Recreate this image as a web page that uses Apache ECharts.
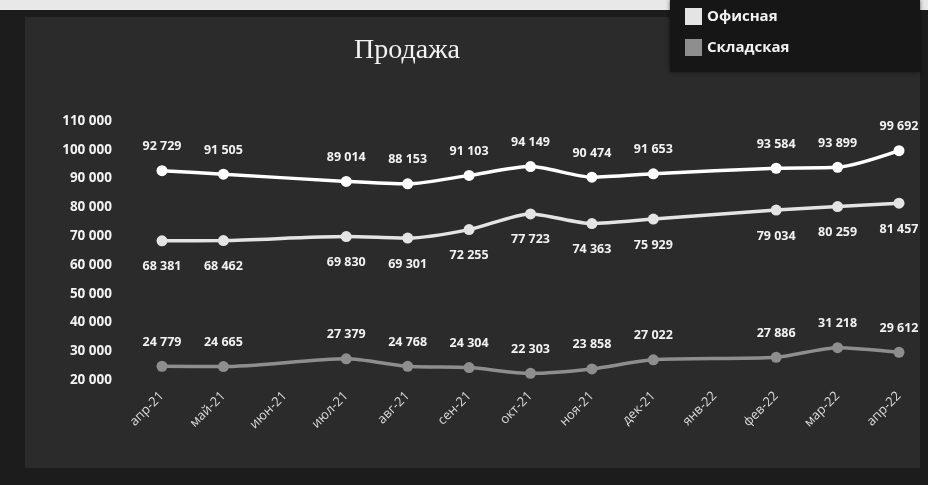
<!DOCTYPE html>
<html><head><meta charset="utf-8">
<script src="https://cdn.jsdelivr.net/npm/echarts@6/dist/echarts.min.js"></script>
<style>html,body{margin:0;padding:0;background:#1c1c1c;}#c{width:928px;height:485px;}</style>
</head><body><div id="c"></div>
<script>
const categories = ['апр-21','май-21','июн-21','июл-21','авг-21','сен-21','окт-21','ноя-21','дек-21','янв-22','фев-22','мар-22','апр-22'];
const totalSales = [92729, 91505, null, 89014, 88153, 91103, 94149, 90474, 91653, null, 93584, 93899, 99692];
const officeSales = [68381, 68462, null, 69830, 69301, 72255, 77723, 74363, 75929, null, 79034, 80259, 81457];
const warehouseSales = [24779, 24665, null, 27379, 24768, 24304, 22303, 23858, 27022, null, 27886, 31218, 29612];
const yTicks = [20000, 110000, 10000];

const fmt = v => String(v).replace(/\B(?=(\d{3})+(?!\d))/g, ' ');
const labelStyle = {show: true, color: '#f2f2f2', fontFamily: 'Open Sans', fontWeight: 'bold', fontSize: 12.5,
  formatter: p => fmt(p.value)};

const chart = echarts.init(document.getElementById('c'));
chart.setOption({
  backgroundColor: '#1c1c1c',
  animation: false,
  graphic: [
    {type: 'rect', shape: {x: 0, y: 0, width: 928, height: 10}, style: {fill: '#e8e8e8'}, z: -10},
    {type: 'rect', shape: {x: 25, y: 17, width: 895, height: 451}, style: {fill: '#2b2b2b'}, z: -10},
    {type: 'rect', shape: {x: 670, y: 0, width: 250, height: 72}, style: {fill: '#161616', shadowBlur: 4, shadowColor: 'rgba(0,0,0,0.6)'}, z: 0}
  ],
  title: {text: 'Продажа', left: 402, top: 32, textAlign: 'center',
    textStyle: {color: '#f2f2f2', fontFamily: 'Liberation Serif', fontWeight: 'normal', fontSize: 28}},
  legend: {data: ['Офисная', 'Складская'], orient: 'vertical', left: 680, top: 3, itemGap: 14,
    icon: 'rect', itemWidth: 17, itemHeight: 17, z: 5,
    textStyle: {color: '#f2f2f2', fontFamily: 'Open Sans', fontWeight: 'bold', fontSize: 15}},
  grid: {left: 162, right: 29, top: 121, bottom: 105},
  xAxis: {type: 'category', data: categories, boundaryGap: false,
    axisLine: {show: false}, axisTick: {show: false},
    axisLabel: {rotate: 45, color: '#dadada', fontFamily: 'Open Sans', fontSize: 13, margin: 14}},
  yAxis: {type: 'value', min: yTicks[0], max: yTicks[1], interval: yTicks[2],
    splitLine: {show: false}, axisLine: {show: false}, axisTick: {show: false},
    axisLabel: {color: '#f2f2f2', fontFamily: 'Open Sans', fontWeight: 'bold', fontSize: 13.5, margin: 50,
      formatter: v => fmt(v)}},
  series: [
    {name: 'Всего', type: 'line', data: totalSales, connectNulls: true, smooth: 0.25,
      color: '#ffffff', lineStyle: {width: 3.5}, symbol: 'circle', symbolSize: 11,
      label: Object.assign({}, labelStyle, {position: 'top', distance: 12})},
    {name: 'Офисная', type: 'line', data: officeSales, connectNulls: true, smooth: 0.25,
      color: '#e4e4e4', lineStyle: {width: 3.5}, symbol: 'circle', symbolSize: 11,
      label: Object.assign({}, labelStyle, {position: 'bottom', distance: 14})},
    {name: 'Складская', type: 'line', data: warehouseSales, connectNulls: true, smooth: 0.25,
      color: '#8e8e8e', lineStyle: {width: 3.5}, symbol: 'circle', symbolSize: 11,
      label: Object.assign({}, labelStyle, {position: 'top', distance: 12})}
  ]
});
</script></body></html>
